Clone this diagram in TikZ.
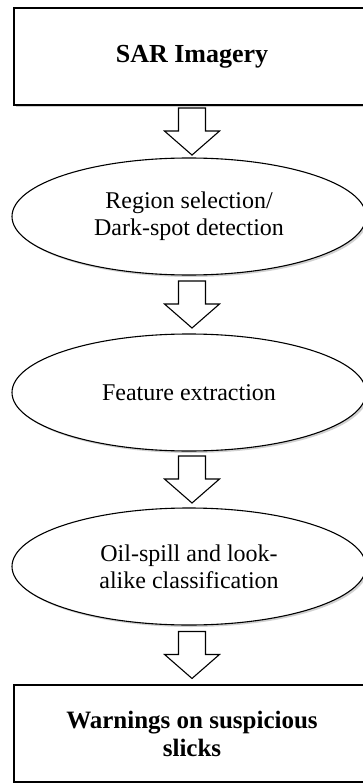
\documentclass[tikz,border=0pt]{standalone}
\usepackage{fontspec}
\setmainfont{Liberation Serif}
\usetikzlibrary{shapes.geometric,calc,shadows}
\begin{document}
\begin{tikzpicture}[x=1pt,y=1pt,
  softshadow/.style={drop shadow={fill=black,opacity=0.18,shadow xshift=2pt,shadow yshift=-2pt}},
  stagebox/.style={draw,line width=1.3pt,fill=white,rectangle,minimum width=356pt,minimum height=97pt,inner sep=0pt,align=center,softshadow},
  stageoval/.style={draw,line width=1.1pt,fill=white,ellipse,minimum width=354pt,minimum height=117pt,inner sep=0pt,align=center,font=\fontsize{24}{27}\selectfont,softshadow},
  blockarrow/.style={draw,line width=1.1pt,fill=white,line join=miter}
]
\useasboundingbox (0,0) rectangle (363,-783);
\fill[white] (0,0) rectangle (363,-783);

\node[stagebox,font=\bfseries\fontsize{26}{30}\selectfont] (sar) at (192,-56.5) {SAR Imagery};
\node[stageoval] (region) at (189,-216.5) {Region selection/\\Dark-spot detection};
\node[stageoval] (feature) at (189,-392.5) {Feature extraction};
\node[stageoval] (classify) at (189,-566.5) {Oil-spill and look-\\alike classification};
\node[stagebox,font=\bfseries\fontsize{25}{28}\selectfont] (warn) at (192,-733.5) {Warnings on suspicious\\slicks};

\newcommand\gaparrow[2]{%
  \path[blockarrow] let \p1=(#1.south), \p2=(#2.north), \p3=(sar.center),
      \n1={(\y1+\y2)/2}, \n2={\x3} in
    (\n2-13.5,\n1+23.5) -- (\n2+13.5,\n1+23.5) -- (\n2+13.5,\n1+0.5) --
    (\n2+27.5,\n1+0.5) -- (\n2,\n1-23.5) -- (\n2-27.5,\n1+0.5) --
    (\n2-13.5,\n1+0.5) -- cycle;}
\gaparrow{sar}{region}
\gaparrow{region}{feature}
\gaparrow{feature}{classify}
\gaparrow{classify}{warn}
\end{tikzpicture}
\end{document}
